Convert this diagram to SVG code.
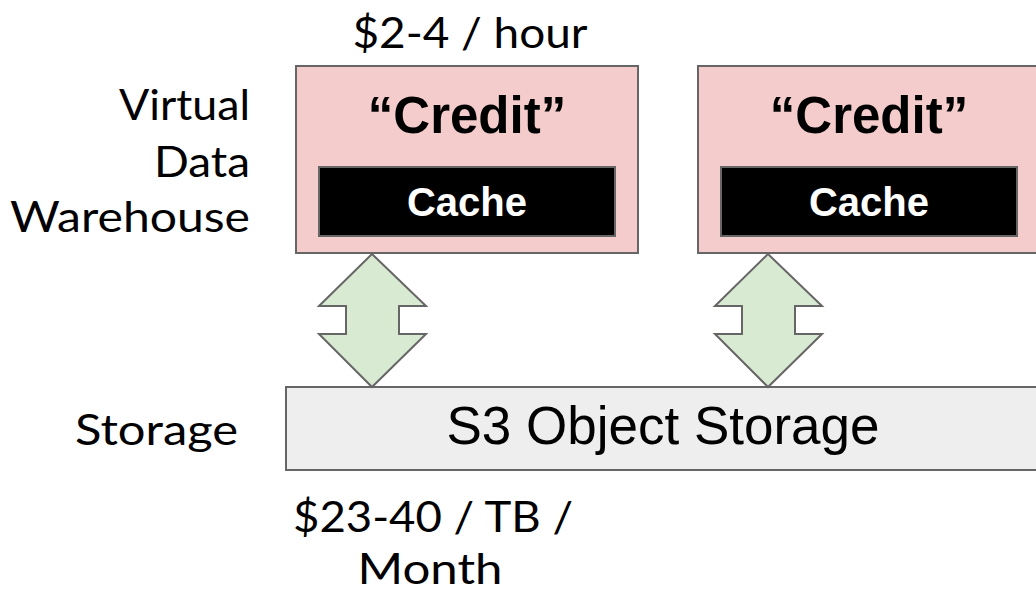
<svg xmlns="http://www.w3.org/2000/svg" width="1036" height="594" viewBox="0 0 1036 594">
<style>
.lbl{font-family:Lato,"Noto Sans",sans-serif;font-size:43px;fill:#000}
.credit{font-family:"Liberation Sans",Arial,sans-serif;font-weight:bold;font-size:51px;fill:#000;text-anchor:middle}
.cache{font-family:"Liberation Sans",Arial,sans-serif;font-weight:bold;font-size:40px;fill:#fff;text-anchor:middle}
.vdw{fill:#f4cccc;stroke:#666;stroke-width:2}
.cbox{fill:#000;stroke:#666;stroke-width:2}
.arrow{fill:#d9ead3;stroke:#666;stroke-width:2;stroke-linejoin:miter}
.store{fill:#eeeeee;stroke:#666;stroke-width:2}
</style>
<rect width="1036" height="594" fill="#fff"/>
<g id="labels">
<text class="lbl" x="250" y="120" text-anchor="end" textLength="131" lengthAdjust="spacingAndGlyphs">Virtual</text>
<text class="lbl" x="250" y="177" text-anchor="end" textLength="96" lengthAdjust="spacingAndGlyphs">Data</text>
<text class="lbl" x="250" y="232" text-anchor="end" textLength="240" lengthAdjust="spacingAndGlyphs">Warehouse</text>
<text class="lbl" x="238" y="445" text-anchor="end" textLength="163" lengthAdjust="spacingAndGlyphs">Storage</text>
<text class="lbl" x="470" y="48" text-anchor="middle" textLength="235" lengthAdjust="spacingAndGlyphs">$2-4 / hour</text>
<text class="lbl" x="433" y="532" text-anchor="middle" textLength="280" lengthAdjust="spacingAndGlyphs">$23-40 / TB /</text>
<text class="lbl" x="430" y="584" text-anchor="middle" textLength="145" lengthAdjust="spacingAndGlyphs">Month</text>
</g>
<g id="storage">
<rect class="store" x="286" y="387" width="760" height="83"/>
<text x="663" y="444" font-family="'Liberation Sans',Arial,sans-serif" font-size="53" text-anchor="middle" fill="#000">S3 Object Storage</text>
</g>
<g id="warehouse1">
<rect class="vdw" x="296" y="66" width="342" height="187"/>
<text class="credit" x="467" y="133">“Credit”</text>
<rect class="cbox" x="319" y="167" width="296" height="69"/>
<text class="cache" x="467" y="216">Cache</text>
</g>
<g id="warehouse2">
<rect class="vdw" x="698" y="66" width="350" height="187"/>
<text class="credit" x="869" y="133">“Credit”</text>
<rect class="cbox" x="721" y="167" width="296" height="69"/>
<text class="cache" x="869" y="216">Cache</text>
</g>
<g id="connectors">
<path class="arrow" d="M372,254 L426,306 L399,306 L399,334 L426,334 L372,387 L319,334 L346,334 L346,306 L319,306 Z"/>
<path class="arrow" d="M768,254 L822,306 L795,306 L795,334 L822,334 L768,387 L715,334 L742,334 L742,306 L715,306 Z"/>
</g>
</svg>
